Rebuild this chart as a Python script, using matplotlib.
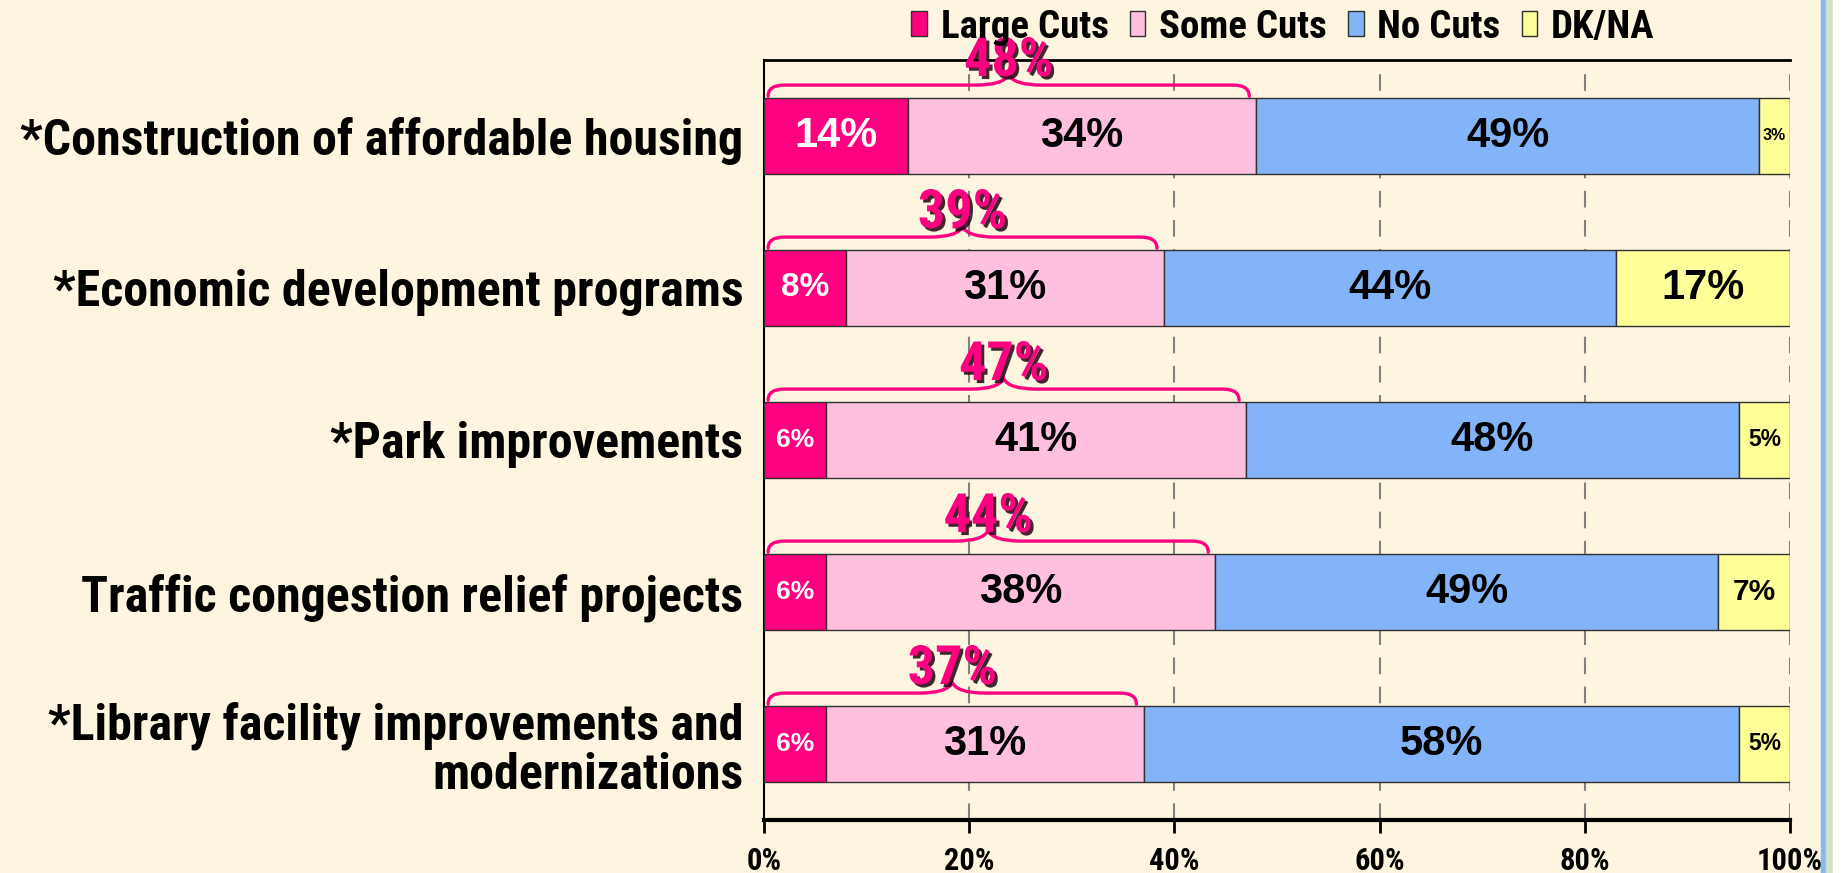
import matplotlib
matplotlib.use("Agg")
import matplotlib.pyplot as plt
from matplotlib import font_manager
from matplotlib.path import Path
from matplotlib.patches import PathPatch, Patch
import matplotlib.patheffects as pe
import os

# ---------------- data ----------------
categories = [
    "*Construction of affordable housing",
    "*Economic development programs",
    "*Park improvements",
    "Traffic congestion relief projects",
    "*Library facility improvements and\nmodernizations",
]
series_names = ["Large Cuts", "Some Cuts", "No Cuts", "DK/NA"]
large_cuts = [14, 8, 6, 6, 6]
some_cuts = [34, 31, 41, 38, 31]
no_cuts = [49, 44, 48, 49, 58]
dk_na = [3, 17, 5, 7, 5]
any_cuts = [48, 39, 47, 44, 37]
x_ticks = [0, 20, 40, 60, 80, 100]
x_tick_labels = ["0%", "20%", "40%", "60%", "80%", "100%"]

colors = ["#FF0080", "#FFC0E0", "#84B4F8", "#FFFF99"]
label_colors = ["white", "black", "black", "black"]
BG = "#FEF5E1"
MAGENTA = "#FF0080"

ttf = font_manager.fontManager.ttflist
names = {f.name for f in ttf}
bold_static = {f.name for f in ttf if f.style == "normal" and str(f.weight) in ("700", "bold")
               and "[" not in os.path.basename(f.fname)}
pref = ["Liberation Sans Narrow", "Arial Narrow", "Roboto Condensed", "PT Sans Narrow",
        "Fira Sans Condensed", "IBM Plex Sans Condensed"]
NARROW = next((p for p in pref if p in bold_static), "DejaVu Sans")
WIDE = "Liberation Sans" if "Liberation Sans" in names else "DejaVu Sans"

W, H = 1849, 873
fig = plt.figure(figsize=(W / 100, H / 100), dpi=100, facecolor=BG)
ax = fig.add_axes([764 / W, 1 - 820 / H, (1790 - 764) / W, (820 - 60) / H])
ax.set_facecolor(BG)

fig.patches.append(plt.Rectangle((1821 / W, 0), 5 / W, 1, transform=fig.transFigure,
                                 color="#86B6F8", zorder=0))
fig.patches.append(plt.Rectangle((1826 / W, 0), 7 / W, 1, transform=fig.transFigure,
                                 color="#D2E4C8", zorder=0))
fig.patches.append(plt.Rectangle((1833 / W, 0), 16 / W, 1, transform=fig.transFigure,
                                 color="white", zorder=0))

series = [large_cuts, some_cuts, no_cuts, dk_na]
ypos = list(range(len(categories)))
left = [0] * len(categories)
for s_i, vals in enumerate(series):
    ax.barh(ypos, vals, left=left, height=0.5, color=colors[s_i],
            edgecolor="#303030", linewidth=1.0, zorder=3, label=series_names[s_i])
    for j, (v, l) in enumerate(zip(vals, left)):
        fs = min(30, 4 + 2.5 * v)
        ax.text(l + v / 2, j, f"{v}%", ha="center", va="center", fontsize=fs,
                fontweight="bold", family=WIDE, color=label_colors[s_i], zorder=5)
    left = [a + b for a, b in zip(left, vals)]

for j, tot in enumerate(any_cuts):
    x0, x1 = 0.4, tot - 0.7
    xm = (x0 + x1) / 2
    ye, yh, yc = j - 0.262, j - 0.335, j - 0.405
    we, wc = 1.6, 3.2
    verts = [(x0, ye), (x0, yh), (x0 + we, yh),
             (xm - wc, yh), (xm - wc * 0.15, yh), (xm, yc),
             (xm + wc * 0.15, yh), (xm + wc, yh),
             (x1 - we, yh), (x1, yh), (x1, ye)]
    codes = [Path.MOVETO, Path.CURVE3, Path.CURVE3,
             Path.LINETO, Path.CURVE3, Path.CURVE3,
             Path.CURVE3, Path.CURVE3,
             Path.LINETO, Path.CURVE3, Path.CURVE3]
    ax.add_patch(PathPatch(Path(verts, codes), facecolor="none", edgecolor=MAGENTA,
                           lw=2.4, zorder=6, clip_on=False, capstyle="round"))
    ax.text(xm, j - 0.49, f"{tot}%", ha="center", va="center", fontsize=39,
            fontweight="bold", family=NARROW, color=MAGENTA, zorder=7, clip_on=False,
            path_effects=[pe.withSimplePatchShadow(offset=(2.2, -2.2), shadow_rgbFace="#200010",
                                                   alpha=0.85)])

ax.set_xlim(0, 100)
ax.set_ylim(len(categories) - 0.5, -0.5)
ax.set_xticks(x_ticks)
ax.set_xticklabels(x_tick_labels, fontsize=22, fontweight="bold", family=NARROW)
ax.tick_params(axis="x", length=9, width=2, pad=10, color="black")
ax.set_yticks(ypos)
ax.set_yticklabels(categories, fontsize=36, fontweight="bold", family=NARROW, linespacing=1.05)
ax.tick_params(axis="y", length=0, pad=15)

for xv in x_ticks[1:]:
    ax.axvline(xv, color="#808080", lw=1.5, ls=(0, (8, 6)), zorder=1)
for side in ["top", "bottom", "left"]:
    ax.spines[side].set_color("black")
ax.spines["top"].set_linewidth(2)
ax.spines["bottom"].set_linewidth(3)
ax.spines["left"].set_linewidth(1.5)
ax.spines["right"].set_visible(False)

handles = [Patch(facecolor=c, edgecolor="#303030", lw=1) for c in colors]
fig.legend(handles, series_names, loc="center", bbox_to_anchor=(1283 / W, 1 - 27 / H),
           ncol=4, frameon=False, handlelength=0.4, handleheight=0.62,
           handletextpad=0.35, columnspacing=0.55,
           prop={"family": NARROW, "weight": "bold", "size": 28})

fig.savefig("out.png", dpi=100, facecolor=BG)
